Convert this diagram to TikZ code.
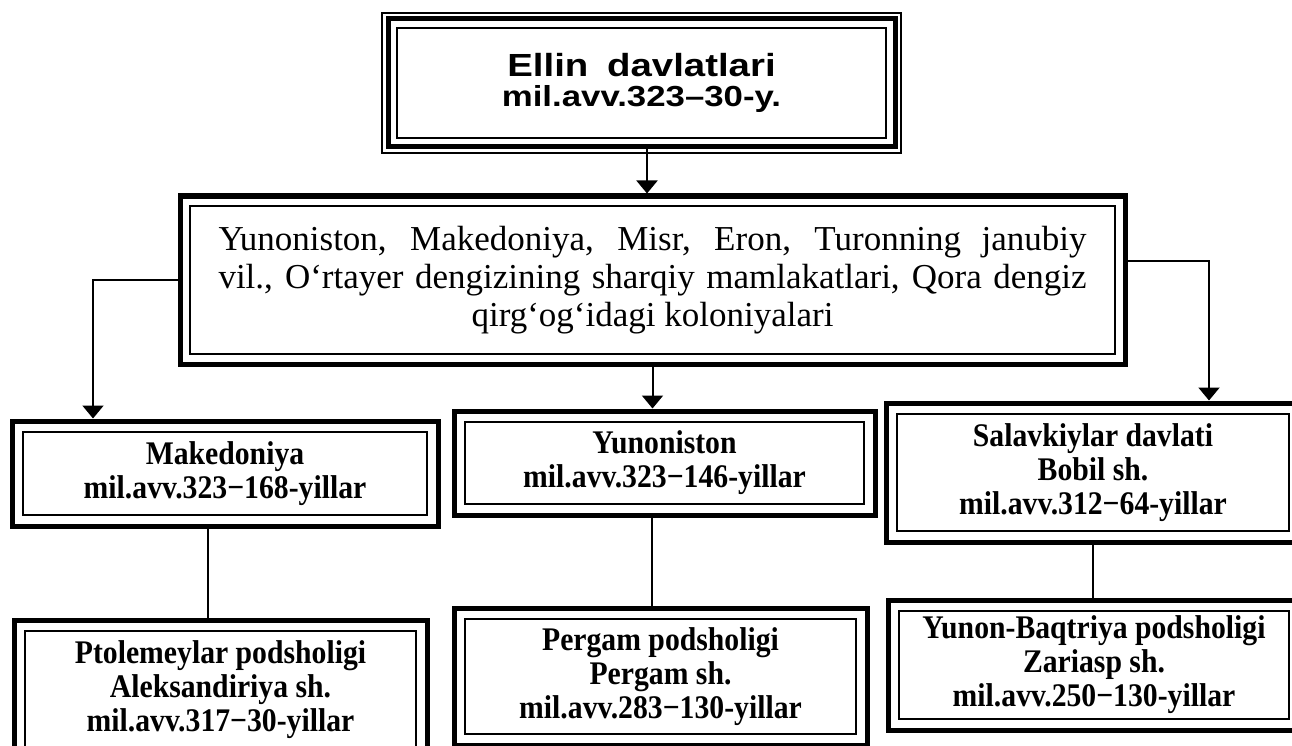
\documentclass[tikz,border=0pt]{standalone}
\usepackage{fontspec}
\setmainfont{Liberation Serif}
\newfontfamily\topfont[FakeStretch=1.2]{Liberation Sans}
\newfontfamily\boxfont[FakeStretch=0.9]{Liberation Serif}
\usetikzlibrary{arrows.meta}
\tikzset{
  frame/.style={draw, rectangle, line width=5pt, inner sep=0pt, fill=white, align=center,
    path picture={\draw[line width=1.4pt]
      ([shift={(#1,-#1)}]path picture bounding box.north west) rectangle
      ([shift={(-#1,#1)}]path picture bounding box.south east);}},
  frame/.default=11pt,
  subbox/.style={frame, font=\boxfont\bfseries\fontsize{33}{34}\selectfont},
  conn/.style={line width=2pt},
  arr/.style={conn, -{Triangle[width=21pt,length=13pt]}},
  thinline/.style={line width=1.4pt}
}
\begin{document}
\begin{tikzpicture}[x=1pt,y=-1pt]
\useasboundingbox (0,0) rectangle (1292,746);
\fill[white] (0,0) rectangle (1292,746);

% top box
\node[frame=9pt, minimum width=507pt, minimum height=128pt,
      font=\topfont\bfseries\fontsize{29}{30}\selectfont] (T) at (641.5,83)
  {{\fontsize{32}{30}\selectfont Ellin\hspace{8pt} davlatlari}\\ mil.avv.323–30-y.};
\draw[thinline] ([shift={(-3.5pt,3.5pt)}]T.north west) rectangle ([shift={(3.5pt,-3.5pt)}]T.south east);

% middle box
\node[frame=10pt, minimum width=945pt, minimum height=168pt,
      font=\fontsize{35}{38}\selectfont] (M) at (652.5,280)
  {\makebox[868pt][s]{Yunoniston, Makedoniya, Misr, Eron, Turonning janubiy}\\
   \makebox[868pt][s]{vil., O‘rtayer dengizining sharqiy mamlakatlari, Qora dengiz}\\
   qirg‘og‘idagi koloniyalari};

% second row
\node[subbox, minimum width=426pt, minimum height=105pt] (A1) at (225,473.5)
  {Makedoniya\\ mil.avv.323−168-yillar};
\node[subbox, minimum width=421pt, minimum height=104pt] (A2) at (664.5,463)
  {Yunoniston\\ mil.avv.323−146-yillar};
\node[subbox, minimum width=414pt, minimum height=139pt] (A3) at (1093,472.5)
  {Salavkiylar davlati\\ Bobil sh.\\ mil.avv.312−64-yillar};

% third row
\node[subbox, minimum width=413pt, minimum height=140pt] (B1) at (220.5,690)
  {Ptolemeylar podsholigi\\ Aleksandiriya sh.\\ mil.avv.317−30-yillar};
\node[subbox, minimum width=413pt, minimum height=137pt] (B2) at (660.5,676.5)
  {Pergam podsholigi\\ Pergam sh.\\ mil.avv.283−130-yillar};
\node[subbox, minimum width=412pt, minimum height=130pt] (B3) at (1094,665)
  {Yunon-Baqtriya podsholigi\\ Zariasp sh.\\ mil.avv.250−130-yillar};

% connectors
\draw[arr] ([xshift=5.5pt]T.south) -- ([xshift=5.5pt]T.south |- M.north);
\draw[arr] (M.west) -| ([xshift=-132pt]A1.north);
\draw[arr] ([yshift=19pt]M.east) -| ([xshift=116pt]A3.north);
\draw[arr] (M.south) -- (M.south |- A2.north);
\draw[conn] ([xshift=-17pt]A1.south) -- ([xshift=-17pt]A1.south |- B1.north);
\draw[conn] ([xshift=-12.5pt]A2.south) -- ([xshift=-12.5pt]A2.south |- B2.north);
\draw[conn] (A3.south) -- (A3.south |- B3.north);
\end{tikzpicture}
\end{document}
